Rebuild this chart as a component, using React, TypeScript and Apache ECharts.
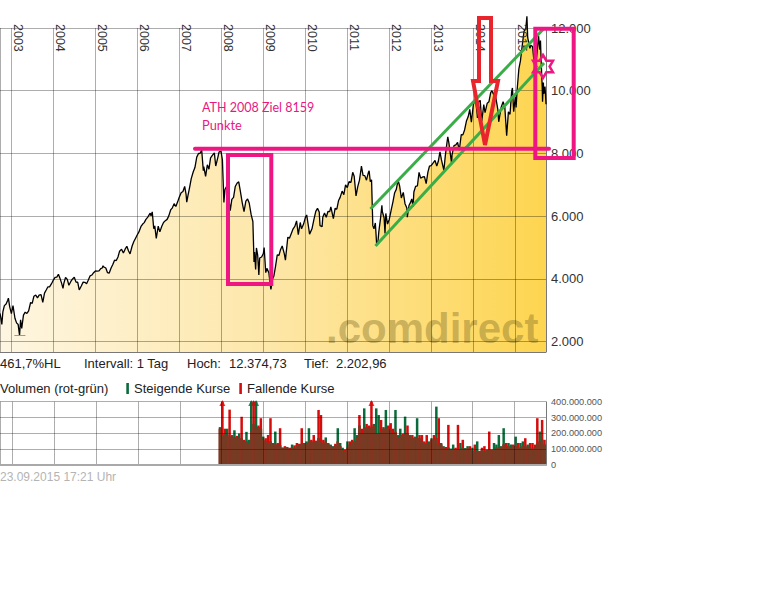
import React, { useEffect, useRef } from 'react';
import * as echarts from 'echarts';

// ---------- DATA ----------
const rangeStart = '2002-09-23';
const rangeEnd = '2015-09-23';

// DAX close (semi-monthly plus extremes)
const dax: [string, number][] = [
  ['2002-09-23', 2900], ['2002-09-30', 2770], ['2002-10-09', 2550], ['2002-10-18', 2950], ['2002-10-31', 3150], ['2002-11-15', 3200], ['2002-11-29', 3320], ['2002-12-05', 3390], ['2002-12-16', 3120], ['2002-12-31', 2893],
  ['2003-01-14', 3150], ['2003-01-31', 2748], ['2003-02-14', 2600], ['2003-02-28', 2547], ['2003-03-12', 2203], ['2003-03-21', 2700], ['2003-03-31', 2424], ['2003-04-15', 2850], ['2003-04-30', 2942], ['2003-05-15', 2900], ['2003-05-30', 2983], ['2003-06-16', 3250], ['2003-06-30', 3221], ['2003-07-15', 3450], ['2003-07-31', 3487], ['2003-08-15', 3400], ['2003-08-29', 3485], ['2003-09-15', 3500], ['2003-09-30', 3257], ['2003-10-15', 3550], ['2003-10-31', 3655], ['2003-11-14', 3750], ['2003-11-28', 3746], ['2003-12-15', 3850], ['2003-12-31', 3965],
  ['2004-01-15', 4050], ['2004-01-30', 4058], ['2004-02-13', 4150], ['2004-02-27', 4018], ['2004-03-12', 3860], ['2004-03-24', 3700], ['2004-03-31', 3856], ['2004-04-15', 4050], ['2004-04-30', 3985], ['2004-05-14', 3800], ['2004-05-31', 3921], ['2004-06-15', 4000], ['2004-06-30', 4052], ['2004-07-15', 3900], ['2004-07-30', 3895], ['2004-08-12', 3650], ['2004-08-31', 3785], ['2004-09-15', 3900], ['2004-09-30', 3893], ['2004-10-15', 3850], ['2004-10-29', 3960], ['2004-11-15', 4100], ['2004-11-30', 4126], ['2004-12-15', 4200], ['2004-12-31', 4256],
  ['2005-01-14', 4250], ['2005-01-31', 4255], ['2005-02-15', 4330], ['2005-02-28', 4350], ['2005-03-07', 4420], ['2005-03-15', 4380], ['2005-03-31', 4349], ['2005-04-15', 4200], ['2005-04-29', 4185], ['2005-05-16', 4350], ['2005-05-31', 4460], ['2005-06-15', 4600], ['2005-06-30', 4586], ['2005-07-15', 4700], ['2005-07-29', 4886], ['2005-08-15', 4950], ['2005-08-31', 4830], ['2005-09-15', 4950], ['2005-09-30', 5044], ['2005-10-14', 4900], ['2005-10-28', 4800], ['2005-11-15', 5050], ['2005-11-30', 5193], ['2005-12-15', 5300], ['2005-12-30', 5408],
  ['2006-01-13', 5500], ['2006-01-31', 5674], ['2006-02-15', 5750], ['2006-02-28', 5797], ['2006-03-15', 5900], ['2006-03-31', 5970], ['2006-04-21', 6100], ['2006-04-28', 6010], ['2006-05-09', 6140], ['2006-05-22', 5600], ['2006-05-31', 5692], ['2006-06-13', 5290], ['2006-06-30', 5683], ['2006-07-14', 5500], ['2006-07-31', 5682], ['2006-08-15', 5800], ['2006-08-31', 5859], ['2006-09-15', 5900], ['2006-09-29', 6004], ['2006-10-16', 6200], ['2006-10-31', 6269], ['2006-11-15', 6400], ['2006-11-30', 6309], ['2006-12-15', 6450], ['2006-12-29', 6597],
  ['2007-01-15', 6750], ['2007-01-31', 6789], ['2007-02-15', 6950], ['2007-02-27', 6700], ['2007-03-05', 6450], ['2007-03-15', 6650], ['2007-03-30', 6917], ['2007-04-13', 7200], ['2007-04-30', 7409], ['2007-05-15', 7550], ['2007-05-31', 7884], ['2007-06-15', 8000], ['2007-06-29', 8007], ['2007-07-13', 8106], ['2007-07-27', 7450], ['2007-07-31', 7584], ['2007-08-16', 7270], ['2007-08-31', 7638], ['2007-09-14', 7500], ['2007-09-28', 7862], ['2007-10-15', 7950], ['2007-10-31', 8019], ['2007-11-12', 7600], ['2007-11-30', 7871], ['2007-12-11', 8050], ['2007-12-28', 8067],
  ['2008-01-09', 7800], ['2008-01-22', 6440], ['2008-01-31', 6852], ['2008-02-15', 6950], ['2008-02-29', 6748], ['2008-03-17', 6180], ['2008-03-31', 6535], ['2008-04-15', 6600], ['2008-04-30', 6949], ['2008-05-15', 7050], ['2008-05-30', 7097], ['2008-06-13', 6800], ['2008-06-30', 6418], ['2008-07-15', 6150], ['2008-07-31', 6479], ['2008-08-15', 6550], ['2008-08-29', 6422], ['2008-09-15', 6050], ['2008-09-30', 5831], ['2008-10-10', 4545], ['2008-10-15', 4860], ['2008-10-24', 4300], ['2008-10-31', 4988], ['2008-11-11', 4750], ['2008-11-21', 4130], ['2008-11-28', 4669], ['2008-12-15', 4700], ['2008-12-30', 4810],
  ['2009-01-06', 5000], ['2009-01-20', 4200], ['2009-01-30', 4338], ['2009-02-16', 4200], ['2009-02-27', 3844], ['2009-03-06', 3666], ['2009-03-20', 4000], ['2009-03-31', 4085], ['2009-04-15', 4400], ['2009-04-30', 4770], ['2009-05-15', 4750], ['2009-05-29', 4941], ['2009-06-12', 5050], ['2009-06-30', 4809], ['2009-07-10', 4600], ['2009-07-31', 5332], ['2009-08-14', 5300], ['2009-08-31', 5458], ['2009-09-15', 5600], ['2009-09-30', 5675], ['2009-10-15', 5850], ['2009-10-30', 5415], ['2009-11-16', 5800], ['2009-11-27', 5600], ['2009-12-15', 5750], ['2009-12-30', 5957],
  ['2010-01-11', 6040], ['2010-01-29', 5608], ['2010-02-05', 5430], ['2010-02-26', 5598], ['2010-03-15', 5900], ['2010-03-31', 6154], ['2010-04-15', 6250], ['2010-04-30', 6136], ['2010-05-07', 5700], ['2010-05-25', 5670], ['2010-05-31', 5965], ['2010-06-15', 6100], ['2010-06-30', 5966], ['2010-07-15', 6150], ['2010-07-30', 6148], ['2010-08-09', 6300], ['2010-08-31', 5925], ['2010-09-15', 6250], ['2010-09-30', 6229], ['2010-10-15', 6500], ['2010-10-29', 6601], ['2010-11-15', 6800], ['2010-11-30', 6688], ['2010-12-15', 7000], ['2010-12-30', 6914],
  ['2011-01-14', 7100], ['2011-01-31', 7077], ['2011-02-15', 7400], ['2011-02-28', 7273], ['2011-03-16', 6650], ['2011-03-31', 6946], ['2011-04-15', 7150], ['2011-04-29', 7514], ['2011-05-02', 7600], ['2011-05-16', 7300], ['2011-05-31', 7294], ['2011-06-15', 7150], ['2011-06-30', 7376], ['2011-07-08', 7450], ['2011-07-18', 7100], ['2011-07-29', 7159], ['2011-08-05', 6240], ['2011-08-09', 5700], ['2011-08-19', 5600], ['2011-08-31', 5784], ['2011-09-12', 5070], ['2011-09-23', 5200], ['2011-09-30', 5502], ['2011-10-14', 5900], ['2011-10-27', 6350], ['2011-10-31', 6141], ['2011-11-15', 5950], ['2011-11-23', 5450], ['2011-11-30', 6088], ['2011-12-15', 5750], ['2011-12-30', 5898],
  ['2012-01-16', 6200], ['2012-01-31', 6458], ['2012-02-15', 6750], ['2012-02-29', 6856], ['2012-03-16', 7150], ['2012-03-30', 6947], ['2012-04-13', 6580], ['2012-04-30', 6761], ['2012-05-15', 6400], ['2012-05-31', 6264], ['2012-06-04', 5970], ['2012-06-19', 6350], ['2012-06-29', 6416], ['2012-07-13', 6550], ['2012-07-24', 6300], ['2012-07-31', 6772], ['2012-08-15', 6950], ['2012-08-31', 6970], ['2012-09-14', 7400], ['2012-09-28', 7216], ['2012-10-15', 7250], ['2012-10-31', 7260], ['2012-11-15', 7040], ['2012-11-30', 7405], ['2012-12-14', 7600], ['2012-12-28', 7612],
  ['2013-01-15', 7700], ['2013-01-31', 7776], ['2013-02-15', 7600], ['2013-02-28', 7742], ['2013-03-15', 8050], ['2013-03-28', 7795], ['2013-04-18', 7460], ['2013-04-30', 7914], ['2013-05-15', 8350], ['2013-05-22', 8530], ['2013-05-31', 8348], ['2013-06-24', 7690], ['2013-06-28', 7959], ['2013-07-15', 8250], ['2013-07-31', 8276], ['2013-08-15', 8350], ['2013-08-30', 8104], ['2013-09-16', 8600], ['2013-09-30', 8594], ['2013-10-15', 8750], ['2013-10-31', 9033], ['2013-11-15', 9170], ['2013-11-29', 9405], ['2013-12-13', 9000], ['2013-12-30', 9552],
  ['2014-01-17', 9740], ['2014-01-31', 9306], ['2014-02-04', 9130], ['2014-02-14', 9650], ['2014-02-28', 9692], ['2014-03-13', 9020], ['2014-03-31', 9556], ['2014-04-11', 9300], ['2014-04-30', 9603], ['2014-05-15', 9650], ['2014-05-30', 9943], ['2014-06-10', 10000], ['2014-06-30', 9833], ['2014-07-03', 10030], ['2014-07-15', 9750], ['2014-07-31', 9407], ['2014-08-08', 9010], ['2014-08-29', 9470], ['2014-09-15', 9650], ['2014-09-30', 9474], ['2014-10-16', 8570], ['2014-10-31', 9327], ['2014-11-14', 9250], ['2014-11-28', 9963], ['2014-12-05', 10090], ['2014-12-16', 9330], ['2014-12-30', 9806],
  ['2015-01-06', 9470], ['2015-01-15', 10030], ['2015-01-30', 10694], ['2015-02-13', 10960], ['2015-02-27', 11402], ['2015-03-16', 11900], ['2015-03-31', 11966], ['2015-04-10', 12374], ['2015-04-17', 11690], ['2015-04-30', 11454], ['2015-05-06', 11350], ['2015-05-15', 11450], ['2015-05-29', 11413], ['2015-06-09', 11000], ['2015-06-19', 11050], ['2015-06-29', 10830], ['2015-06-30', 10945], ['2015-07-10', 11300], ['2015-07-20', 11750], ['2015-07-31', 11308], ['2015-08-06', 11600], ['2015-08-12', 10920], ['2015-08-21', 10120], ['2015-08-24', 9650], ['2015-08-31', 10259], ['2015-09-04', 9900], ['2015-09-14', 10130], ['2015-09-18', 9920], ['2015-09-23', 9570],
];

const highPoint: [string, number] = ['2015-04-10', 12374.73];
const lowPoint: [string, number] = ['2003-03-12', 2202.96];

// Volume in millions, one bar per 3-week period starting 2007-12-17
const volStart = [2007, 11, 17];
const volStepDays = 21;
const volUp = [
  240, 190, 200, 230, 180, 190, 220, 175, 200, 170,
  150, 210, 160, 450, 260, 440, 240, 230, 180, 150,
  140, 150, 140, 212, 130, 125, 110, 108, 115, 105,
  130, 110, 125, 130, 135, 140, 150, 233, 150, 145,
  150, 170, 150, 140, 175, 140, 130, 120, 125, 233,
  140, 110, 90, 150, 130, 150, 233, 190, 250, 200,
  358, 240, 233, 240, 260, 358, 316, 210, 240, 348,
  230, 220, 200, 348, 190, 230, 190, 306, 200, 190,
  170, 180, 296, 170, 150, 140, 140, 150, 170, 160,
  369, 130, 140, 120, 100, 110, 105, 130, 100, 100,
  140, 110, 108, 120, 100, 110, 90, 150, 85, 100,
  90, 95, 100, 100, 140, 130, 190, 120, 233, 110,
  140, 130, 120, 180, 110, 140, 150, 120, 130, 110,
  100, 110, 140, 212, 160, 130,
];
const volDown = [
  230, 450, 230, 190, 350, 180, 175, 185, 170, 305,
  160, 150, 140, 210, 460, 230, 250, 296, 160, 170,
  190, 296, 130, 130, 140, 233, 110, 120, 105, 110,
  110, 125, 140, 135, 233, 130, 140, 145, 160, 190,
  155, 348, 316, 160, 150, 135, 125, 115, 135, 150,
  120, 100, 100, 110, 150, 160, 150, 170, 316, 230,
  233, 260, 250, 410, 250, 200, 200, 285, 230, 230,
  250, 265, 230, 210, 170, 190, 200, 200, 250, 180,
  190, 170, 170, 190, 190, 150, 190, 140, 160, 190,
  170, 296, 130, 110, 115, 254, 100, 100, 110, 254,
  100, 160, 100, 105, 120, 90, 130, 90, 90, 110,
  120, 100, 212, 95, 100, 110, 110, 115, 130, 140,
  120, 110, 130, 120, 140, 110, 120, 170, 110, 140,
  140, 130, 296, 150, 285, 160,
];

const infoTexts = ['461,7%HL', 'Intervall: 1 Tag', 'Hoch:', '12.374,73', 'Tief:', '2.202,96'];
const legendTexts = ['Volumen (rot-grün)', 'Steigende Kurse', 'Fallende Kurse'];
const footerText = '23.09.2015 17:21 Uhr';
const noteLines = ['ATH 2008 Ziel 8159', 'Punkte'];
const watermark = '.comdirect';

// ---------- LAYOUT / STYLE ----------
const FONT = '"Liberation Sans", Arial, sans-serif';
const infoX = [0, 84, 187, 229, 304, 336];
const GREEN = '#0b6b3a';
const RED = '#d40c0c';
const BROWN = '#773b24';
const PINK = '#ee1683';
const GRID = 'rgba(0,0,0,0.32)';

const fmtDots = (v: number) => String(Math.round(v)).replace(/\B(?=(\d{3})+(?!\d))/g, '.');

function hexagram(cx: number, cy: number, R: number) {
  const r = R / Math.sqrt(3);
  const pts: number[][] = [];
  for (let k = 0; k < 12; k++) {
    const a = (-90 + k * 30) * Math.PI / 180;
    const rad = k % 2 === 0 ? R : r;
    pts.push([cx + rad * Math.cos(a), cy + rad * Math.sin(a)]);
  }
  return pts;
}

export default function App() {
  const ref = useRef<HTMLDivElement>(null);
  useEffect(() => {
    if (!ref.current) return;
    const chart = echarts.init(ref.current, undefined, { renderer: 'svg' });

    const volDates = volUp.map((_, i) => new Date(volStart[0], volStart[1], volStart[2] + i * volStepDays).getTime());
    const upData = volUp.map((v, i) => [volDates[i], v * 1e6]);
    const downData = volDown.map((v, i) => [volDates[i], v * 1e6]);
    const overlapData = volUp.map((v, i) => [volDates[i], Math.min(v, volDown[i]) * 1e6]);
    const arrowsUp = upData.filter((d) => d[1] > 4e8).map((d) => [d[0], 3.92e8]);
    const arrowsDown = downData.filter((d) => d[1] > 4e8).map((d) => [d[0], 3.92e8]);

    const yearAxisCommon = {
      type: 'time' as const,
      min: rangeStart,
      max: rangeEnd,
      minInterval: 365 * 24 * 3600 * 1000,
      maxInterval: 366 * 24 * 3600 * 1000,
      z: 10,
    };

    const txt = (text: string, x: number, y: number, font: string, fill: string, z = 100) => ({
      type: 'text', x, y, z, silent: true,
      style: { text, font, fill, align: 'left', verticalAlign: 'middle', textAlign: 'left', textVerticalAlign: 'middle' },
    });

    const graphics: any[] = [
      // watermark
      txt(watermark, 326, 328, `bold 42px ${FONT}`, 'rgba(130,112,40,0.42)', 5),
      // info row
      ...infoTexts.map((t, i) => txt(t, infoX[i], 363.5, `13px ${FONT}`, '#222')),
      // legend row
      txt(legendTexts[0], 0, 388.5, `13px ${FONT}`, '#222'),
      { type: 'rect', z: 100, shape: { x: 126.3, y: 383, width: 2.6, height: 11 }, style: { fill: GREEN } },
      txt(legendTexts[1], 134, 388.5, `13px ${FONT}`, '#222'),
      { type: 'rect', z: 100, shape: { x: 239.3, y: 383, width: 2.6, height: 11 }, style: { fill: RED } },
      txt(legendTexts[2], 247, 388.5, `13px ${FONT}`, '#222'),
      // footer
      txt(footerText, 0, 476.5, `12px ${FONT}`, '#b4b4b4'),
      // annotations: green channel
      { type: 'line', z: 101, shape: { x1: 370.5, y1: 209, x2: 543, y2: 29.5 }, style: { stroke: '#3aad48', lineWidth: 3 } },
      { type: 'line', z: 101, shape: { x1: 375.5, y1: 246, x2: 544, y2: 63 }, style: { stroke: '#3aad48', lineWidth: 3 } },
      // red arrow
      {
        type: 'polygon', z: 102,
        shape: { points: [[479, 18], [491, 18], [491, 81], [498, 81], [485, 145], [473, 81], [479, 81]] },
        style: { fill: 'none', stroke: '#e8242c', lineWidth: 4, lineJoin: 'miter' },
      },
      // pink line, boxes, star
      { type: 'line', z: 103, shape: { x1: 195, y1: 148.7, x2: 549, y2: 148.7 }, style: { stroke: PINK, lineWidth: 4, lineCap: 'round' } },
      { type: 'rect', z: 103, shape: { x: 228, y: 155, width: 43.3, height: 129 }, style: { fill: 'none', stroke: PINK, lineWidth: 4 } },
      { type: 'rect', z: 103, shape: { x: 535.3, y: 28.7, width: 38.4, height: 129.3 }, style: { fill: 'none', stroke: PINK, lineWidth: 4 } },
      { type: 'polygon', z: 104, shape: { points: hexagram(543, 66.5, 11.5) }, style: { fill: 'none', stroke: PINK, lineWidth: 2.5 } },
      txt(noteLines[0], 202, 107, `12.5px Lato, "Open Sans", sans-serif`, '#e8187f', 104),
      txt(noteLines[1], 202, 124.5, `12.8px Lato, "Open Sans", sans-serif`, '#e8187f', 104),
    ];

    const option: any = {
      animation: false,
      backgroundColor: '#fff',
      grid: [
        { left: 0, right: 222, top: 28, height: 324 },
        { left: 0, right: 222, top: 401.7, height: 63.5 },
      ],
      xAxis: [
        {
          ...yearAxisCommon, gridIndex: 0, position: 'top',
          axisLine: { show: false }, axisTick: { show: false },
          axisLabel: {
            formatter: '{yyyy}', rotate: 90, margin: 4, align: 'left', verticalAlign: 'bottom',
            color: '#333', fontSize: 12.5, fontFamily: FONT, hideOverlap: false,
          },
          splitLine: { show: true, lineStyle: { color: GRID, width: 1 } },
        },
        {
          ...yearAxisCommon, gridIndex: 0, position: 'bottom',
          axisLine: { show: true, lineStyle: { color: 'rgba(0,0,0,0.3)', width: 1 } },
          axisTick: { show: false }, axisLabel: { show: false }, splitLine: { show: false },
        },
        {
          ...yearAxisCommon, gridIndex: 1, position: 'bottom',
          axisLine: { show: true, lineStyle: { color: '#a9a9a9', width: 2 } },
          axisTick: { show: false }, axisLabel: { show: false },
          splitLine: { show: true, lineStyle: { color: GRID, width: 1 } },
        },
      ],
      yAxis: [
        {
          type: 'value', gridIndex: 0, position: 'right', min: 1672, max: 12000, splitNumber: 5, z: 10,
          axisLine: { show: true, lineStyle: { color: 'rgba(0,0,0,0.3)' } },
          axisTick: { show: false },
          axisLabel: {
            margin: 5, color: '#333', fontSize: 13, fontFamily: FONT, showMinLabel: false,
            formatter: (v: number) => (v % 2000 === 0 ? fmtDots(v) : ''),
          },
          splitLine: { show: true, lineStyle: { color: GRID, width: 1 } },
        },
        {
          type: 'value', gridIndex: 1, position: 'right', min: 0, max: 4e8, interval: 1e8, z: 10,
          axisLine: { show: true, lineStyle: { color: 'rgba(0,0,0,0.3)' } },
          axisTick: { show: false },
          axisLabel: { margin: 5, color: '#555', fontSize: 9.2, fontFamily: FONT, formatter: (v: number) => fmtDots(v) },
          splitLine: { show: true, lineStyle: { color: GRID, width: 1 } },
        },
      ],
      series: [
        {
          type: 'line', name: 'DAX', xAxisIndex: 0, yAxisIndex: 0, data: dax,
          symbol: 'none', showSymbol: false, clip: false, z: 2,
          lineStyle: { color: '#000', width: 1.3 },
          areaStyle: {
            opacity: 1,
            color: new echarts.graphic.LinearGradient(0, 0, 1, 0, [
              { offset: 0, color: '#fef6e2' },
              { offset: 0.5, color: '#fde7a8' },
              { offset: 1, color: '#fdd550' },
            ]),
          },
          markLine: {
            silent: true, symbol: 'none', label: { show: false },
            lineStyle: { color: '#999', width: 1, type: 'solid' },
            data: [
              [{ coord: ['2003-01-26', lowPoint[1]] }, { coord: ['2003-05-02', lowPoint[1]] }],
              [{ coord: ['2015-03-18', highPoint[1]] }, { coord: ['2015-05-20', highPoint[1]] }],
            ],
          },
        },
        {
          type: 'bar', name: 'Steigende Kurse', xAxisIndex: 2, yAxisIndex: 1, data: upData,
          barWidth: 2.5, barGap: '-100%', itemStyle: { color: GREEN }, z: 2,
        },
        {
          type: 'bar', name: 'Fallende Kurse', xAxisIndex: 2, yAxisIndex: 1, data: downData,
          barWidth: 2.5, barGap: '-100%', itemStyle: { color: RED }, z: 3,
        },
        {
          type: 'bar', name: 'Overlap', xAxisIndex: 2, yAxisIndex: 1, data: overlapData,
          barWidth: 2.5, barGap: '-100%', itemStyle: { color: BROWN }, z: 4,
        },
        {
          type: 'scatter', xAxisIndex: 2, yAxisIndex: 1, data: arrowsUp, symbol: 'triangle',
          symbolSize: [6, 6], itemStyle: { color: GREEN }, z: 5, silent: true,
        },
        {
          type: 'scatter', xAxisIndex: 2, yAxisIndex: 1, data: arrowsDown, symbol: 'triangle',
          symbolSize: [6, 6], itemStyle: { color: RED }, z: 5, silent: true,
        },
      ],
      graphic: graphics,
    };
    chart.setOption(option);
    return () => chart.dispose();
  }, []);

  return <div ref={ref} style={{ position: 'absolute', left: 0, top: 0, width: 768, height: 614 }} />;
}
